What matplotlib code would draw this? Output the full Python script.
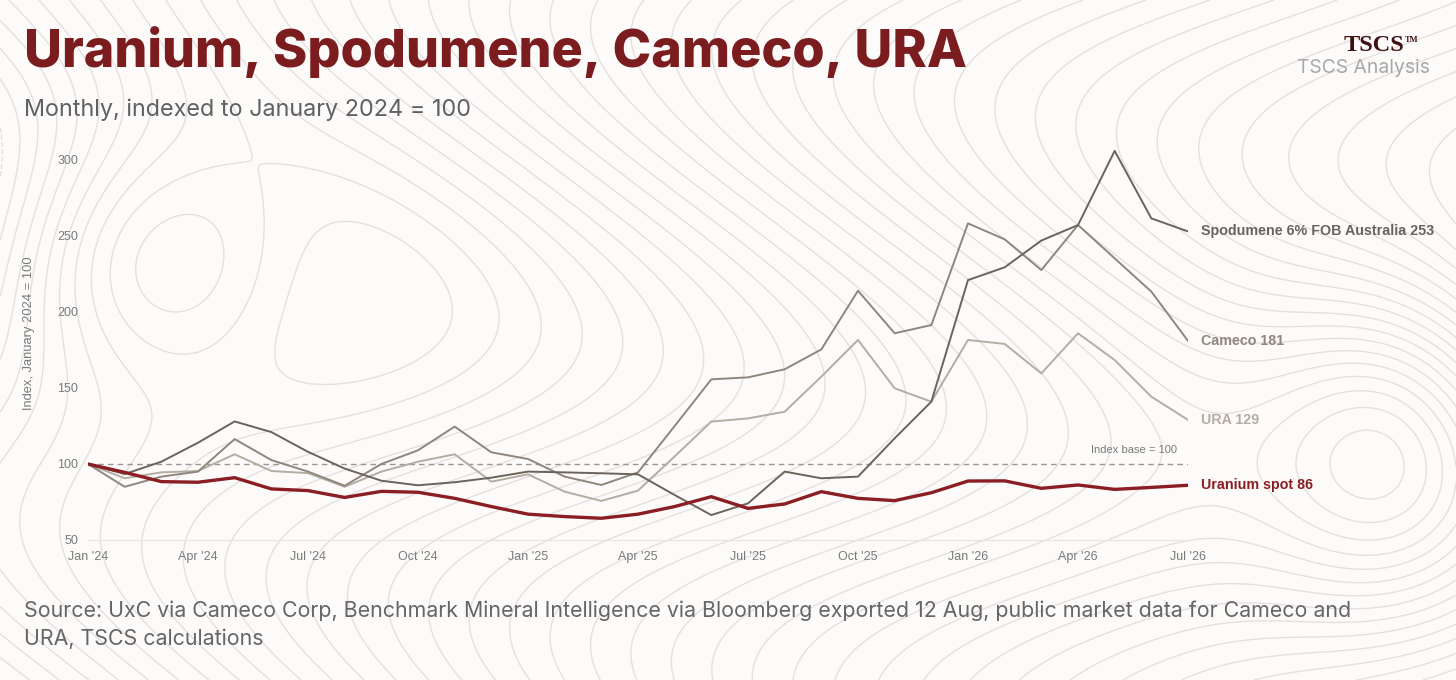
import numpy as np
import matplotlib.pyplot as plt

# monthly, Jan 2024 .. Jul 2026 (index, Jan 2024 = 100)
tick_labels = ["Jan '24", "Apr '24", "Jul '24", "Oct '24", "Jan '25", "Apr '25",
               "Jul '25", "Oct '25", "Jan '26", "Apr '26", "Jul '26"]

uranium = [100, 94.5, 88.4, 88, 91, 83.6, 82.5, 78, 82, 81.4, 77.4, 72, 67, 65.4, 64.3, 67,
           72, 78.5, 70.8, 73.7, 81.8, 77.4, 75.9, 81.1, 88.8, 88.9, 84, 86.2, 83.3, 84.6, 86]
spodumene = [100, 93.4, 101.5, 114, 128, 121, 108, 97, 89, 86, 88, 91, 95, 94.5, 93.9, 93.2,
             79.6, 66.4, 74.1, 95, 90.6, 91.7, 116.9, 141, 221, 229.4, 247, 257.2, 306, 261.6, 253]
cameco = [100, 85, 91.7, 95, 116.4, 102.6, 95, 85.7, 100, 109, 124.6, 107.7, 103.3, 91.7, 86.2,
          94.5, 125, 155.7, 157, 162.3, 175.4, 214, 186, 191.4, 258.3, 247.8, 227.6, 257.2,
          235.3, 213.4, 181]
ura = [100, 90.6, 94.5, 95.4, 106.4, 95.4, 94, 85, 95, 101.5, 106.4, 88.4, 93.2, 81.8, 75.7,
       82.5, 105, 127.9, 130, 134.4, 157.5, 181.6, 149.8, 141, 181.6, 179, 159.6, 186, 168.4,
       144.3, 129]

series_names = ["Spodumene 6% FOB Australia", "Cameco", "URA", "Uranium spot"]

W, H = 1456, 680
BG = "#fcfbfa"
RED = "#8b1e22"

fig = plt.figure(figsize=(W / 100, H / 100), dpi=100, facecolor=BG)
renderer = fig.canvas.get_renderer()


def fit_width(t, width_px):
    # scale a text's font size so it spans the wanted pixel width
    w = t.get_window_extent(renderer).width
    t.set_fontsize(t.get_fontsize() * width_px / w)


# decorative topographic background
bg = fig.add_axes([0, 0, 1, 1], zorder=-5)
bx, by = np.meshgrid(np.linspace(0, 1, 500), np.linspace(0, 1, 250))
f = (9 * bx + 1.1 * np.sin(2.2 * np.pi * by + 3 * bx)
     + 2.5 * np.exp(-((bx - 0.1) ** 2 / 0.012 + (by - 0.62) ** 2 / 0.04))
     - 2.2 * np.exp(-((bx - 0.96) ** 2 / 0.008 + (by - 0.35) ** 2 / 0.06)))
bg.contour(bx, by, f, levels=42, colors="#e4e0e0", linewidths=1.0)
bg.set_xlim(0, 1)
bg.set_ylim(0, 1)
bg.axis("off")

ax = fig.add_axes([88 / W, 1 - 540 / H, 1100 / W, (540 - 144.8) / H])
ax.set_facecolor("none")

x = np.arange(len(uranium))
ax.axhline(100, color="#9a9696", lw=1, ls=(0, (4, 3)), zorder=1)
ax.plot(x, ura, color="#b5aca3", lw=1.4, zorder=2)
ax.plot(x, cameco, color="#8f867d", lw=1.4, zorder=3)
ax.plot(x, spodumene, color="#6b635c", lw=1.4, zorder=4)
ax.plot(x, uranium, color=RED, lw=2.4, zorder=5)

ax.set_xlim(0, 30)
ax.set_ylim(50, 310)
ax.set_xticks(np.arange(0, 31, 3))
ax.set_xticklabels(tick_labels)
ax.set_yticks(np.arange(50, 301, 50))
ax.tick_params(length=0, labelsize=9, labelcolor="#7a7a7a")
ax.tick_params(axis="x", pad=8)
ax.tick_params(axis="y", pad=7)
for lab in ax.get_xticklabels() + ax.get_yticklabels():
    lab.set_family("Liberation Sans")
for s in ["top", "right", "left"]:
    ax.spines[s].set_visible(False)
ax.spines["bottom"].set_color("#ebe2dd")

# end labels
ends = [(spodumene, "#6b635c"), (cameco, "#8f867d"), (ura, "#b5aca3"), (uranium, RED)]
for name, (vals, col) in zip(series_names, ends):
    ax.annotate(f"{name} {vals[-1]:.0f}", xy=(30, vals[-1]), xytext=(9.5, 0),
                textcoords="offset points", va="center", ha="left", fontsize=10.3,
                fontweight="bold", color=col, family="Liberation Sans", annotation_clip=False)

ax.annotate("Index base = 100", xy=(29.7, 100), xytext=(0, 10), textcoords="offset points",
            ha="right", va="center", fontsize=8, color="#7a7a7a", family="Liberation Sans")

fig.text(29 / W, 1 - 333 / H, "Index, January 2024 = 100", rotation=90, ha="center",
         va="center", fontsize=9.3, color="#7a7a7a", family="Liberation Sans")

# titles
t = fig.text(24 / W, 1 - 67 / H, "Uranium, Spodumene, Cameco, URA", fontsize=32,
             fontweight=800, color="#7b1c1e", family="Inter", va="baseline")
fit_width(t, 943)
t = fig.text(24 / W, 1 - 116 / H, "Monthly, indexed to January 2024 = 100", fontsize=16,
             color="#616161", family="Inter", va="baseline")
fit_width(t, 449)

fig.text(1404 / W, 1 - 51 / H, "TSCS", fontsize=17.5, fontweight="bold",
         color="#3f1212", family="Liberation Serif", ha="right", va="baseline")
fig.text(1405 / W, 1 - 42 / H, "TM", fontsize=6, fontweight="bold",
         color="#3f1212", family="Liberation Serif", ha="left", va="baseline")
t = fig.text(1430 / W, 1 - 73 / H, "TSCS Analysis", fontsize=13, color="#a8a8a8",
             family="Inter", ha="right", va="baseline")
fit_width(t, 133)

t = fig.text(24 / W, 1 - 617 / H, "Source: UxC via Cameco Corp, Benchmark Mineral Intelligence "
             "via Bloomberg exported 12 Aug, public market data for Cameco and",
             fontsize=14.5, color="#666666", family="Inter", va="baseline")
fit_width(t, 1327)
fig.text(24 / W, 1 - 645 / H, "URA, TSCS calculations",
         fontsize=t.get_fontsize(), color="#666666", family="Inter", va="baseline")

fig.savefig("out.png", dpi=100, facecolor=BG)
